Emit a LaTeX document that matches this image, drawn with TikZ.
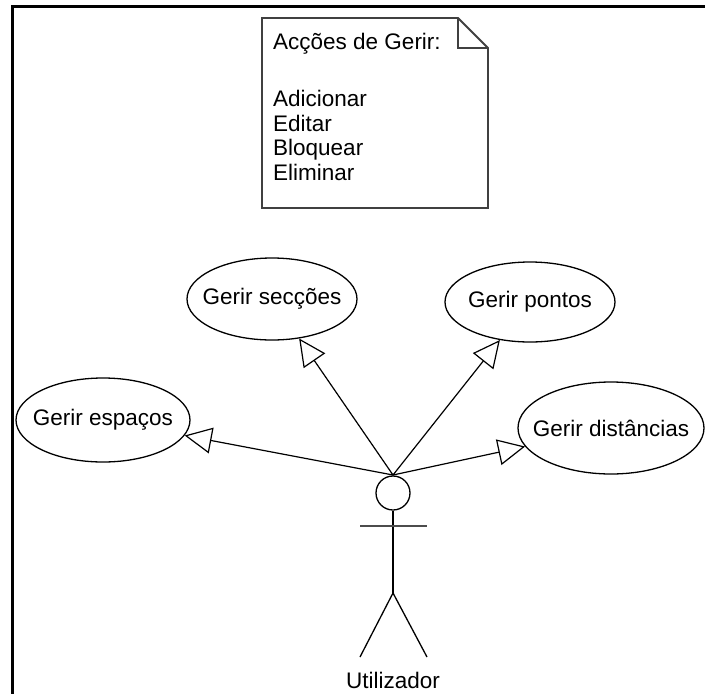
\documentclass[tikz,border=0pt]{standalone}
\usepackage{fontspec}
\setmainfont{Liberation Sans}
\usetikzlibrary{shapes.geometric,arrows.meta}
\begin{document}
\begin{tikzpicture}[x=1pt,y=-1pt,
  usecase/.style={draw=black,line width=1.3pt,ellipse,inner xsep=-30pt,inner ysep=0pt,font=\fontsize{22.5}{24.5}\selectfont},
  gen/.style={line width=1.2pt,-{Triangle[open,length=27pt,width=26pt,line width=1.2pt]}},
  txt/.style={font=\fontsize{22.5}{24.5}\selectfont,inner sep=0pt}]
\useasboundingbox (0,0) rectangle (705,694);
% frame: top and left edges
\draw[line width=3pt] (705,6.5) -- (12,6.5) -- (12,694);
% note with folded corner
\draw[line width=1.8pt,draw=black!75] (262,18) -- (458,18) -- (488,48) -- (488,208) -- (262,208) -- cycle;
\draw[line width=1.5pt,draw=black!75] (458,18) -- (458,48) -- (488,48);
\node[txt,anchor=base west] (head) at (273,49) {Acções de Gerir:};
\node[txt,anchor=north west,align=left] (list) at (273,90) {Adicionar\\Editar\\Bloquear\\Eliminar};
% use cases
\node[usecase,minimum width=170pt,minimum height=82pt] (secc) at (272,299) {Gerir secções};
\node[usecase,minimum width=170pt,minimum height=80pt] (pont) at (530,302) {Gerir pontos};
\node[usecase,minimum width=174pt,minimum height=84pt] (esp) at (103,420) {Gerir espaços};
\node[usecase,minimum width=186pt,minimum height=92pt] (dist) at (611,428) {Gerir distâncias};
% actor
\coordinate (top) at (393,475);
\node[draw,circle,line width=1.3pt,minimum size=34pt,inner sep=0pt] (headc) at (393,493) {};
\coordinate (hip) at (393,593);
\coordinate (arml) at (360,526);
\coordinate (armr) at (427,526);
\coordinate (footl) at (360,657);
\coordinate (footr) at (427,657);
\draw[line width=1.3pt] (headc.south) -- (hip);
\draw[line width=1.8pt,draw=black!70] (arml) -- (armr);
\draw[line width=1.3pt] (footl) -- (hip) -- (footr);
\node[txt] (actor) at (393,680) {Utilizador};
% generalisations
\draw[gen] (top) -- (secc);
\draw[gen] (top) -- (pont);
\draw[gen] (top) -- (esp);
\draw[gen] (top) -- (dist);
\end{tikzpicture}
\end{document}
